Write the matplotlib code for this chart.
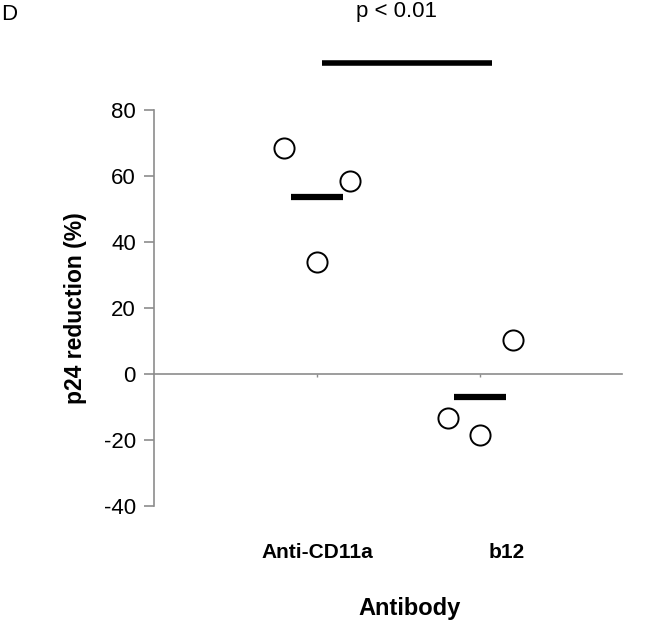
import matplotlib
matplotlib.use('Agg')
import matplotlib.pyplot as plt

plt.rcParams['font.family'] = ['Liberation Sans', 'DejaVu Sans']

# data
categories = ['Anti-CD11a', 'b12']
cat_pos = [1, 2]
x_anti = [0.8, 1.0, 1.2]
y_anti = [68.5, 33.9, 58.5]
x_b12 = [1.8, 2.0, 2.2]
y_b12 = [-13.2, -18.5, 10.3]
means = [53.6, -7.1]
y_ticks = [-40, -20, 0, 20, 40, 60, 80]

grey = '#8c8c8c'

fig = plt.figure(figsize=(6.45, 6.24), dpi=100)
ax = fig.add_axes([0.2388, 0.1891, 0.9643 - 0.2388, 0.8237 - 0.1891])

ax.scatter(x_anti, y_anti, s=210, facecolors='white', edgecolors='black', linewidths=1.4, zorder=3)
ax.scatter(x_b12, y_b12, s=210, facecolors='white', edgecolors='black', linewidths=1.4, zorder=3)

for xc, m in zip(cat_pos, means):
    ax.plot([xc - 0.16, xc + 0.16], [m, m], color='black', lw=4.5, solid_capstyle='butt', zorder=2)

ax.set_xlim(0, 2.87)
ax.set_ylim(-40, 80)

ax.spines['top'].set_visible(False)
ax.spines['right'].set_visible(False)
ax.spines['left'].set_color(grey)
ax.spines['bottom'].set_color(grey)
ax.spines['bottom'].set_position(('data', 0))
ax.spines['left'].set_linewidth(1.2)
ax.spines['bottom'].set_linewidth(1.2)

ax.set_yticks(y_ticks)
ax.set_yticklabels([str(t) for t in y_ticks], fontsize=16)
ax.tick_params(axis='y', direction='out', length=7, width=1.2, color=grey, pad=6)
ax.set_xticks(cat_pos)
ax.set_xticklabels([])
ax.tick_params(axis='x', direction='out', length=2, width=1, color=grey)

ax.set_ylabel('p24 reduction (%)', fontsize=16.5, fontweight='bold', labelpad=12)

# category labels
ax.text(1.0, -54, categories[0], ha='center', va='center', fontsize=15, fontweight='bold', clip_on=False)
ax.text(2.16, -54, categories[1], ha='center', va='center', fontsize=15, fontweight='bold', clip_on=False)
ax.text(1.57, -71, 'Antibody', ha='center', va='center', fontsize=17, fontweight='bold', clip_on=False)

# significance bar
ax.plot([1.03, 2.07], [94.2, 94.2], color='black', lw=4, solid_capstyle='butt', clip_on=False)
ax.text(1.49, 110, 'p < 0.01', ha='center', va='center', fontsize=16, clip_on=False)

fig.text(0.002, 0.977, 'D', ha='left', va='center', fontsize=16)

fig.savefig('out.png', dpi=100)
